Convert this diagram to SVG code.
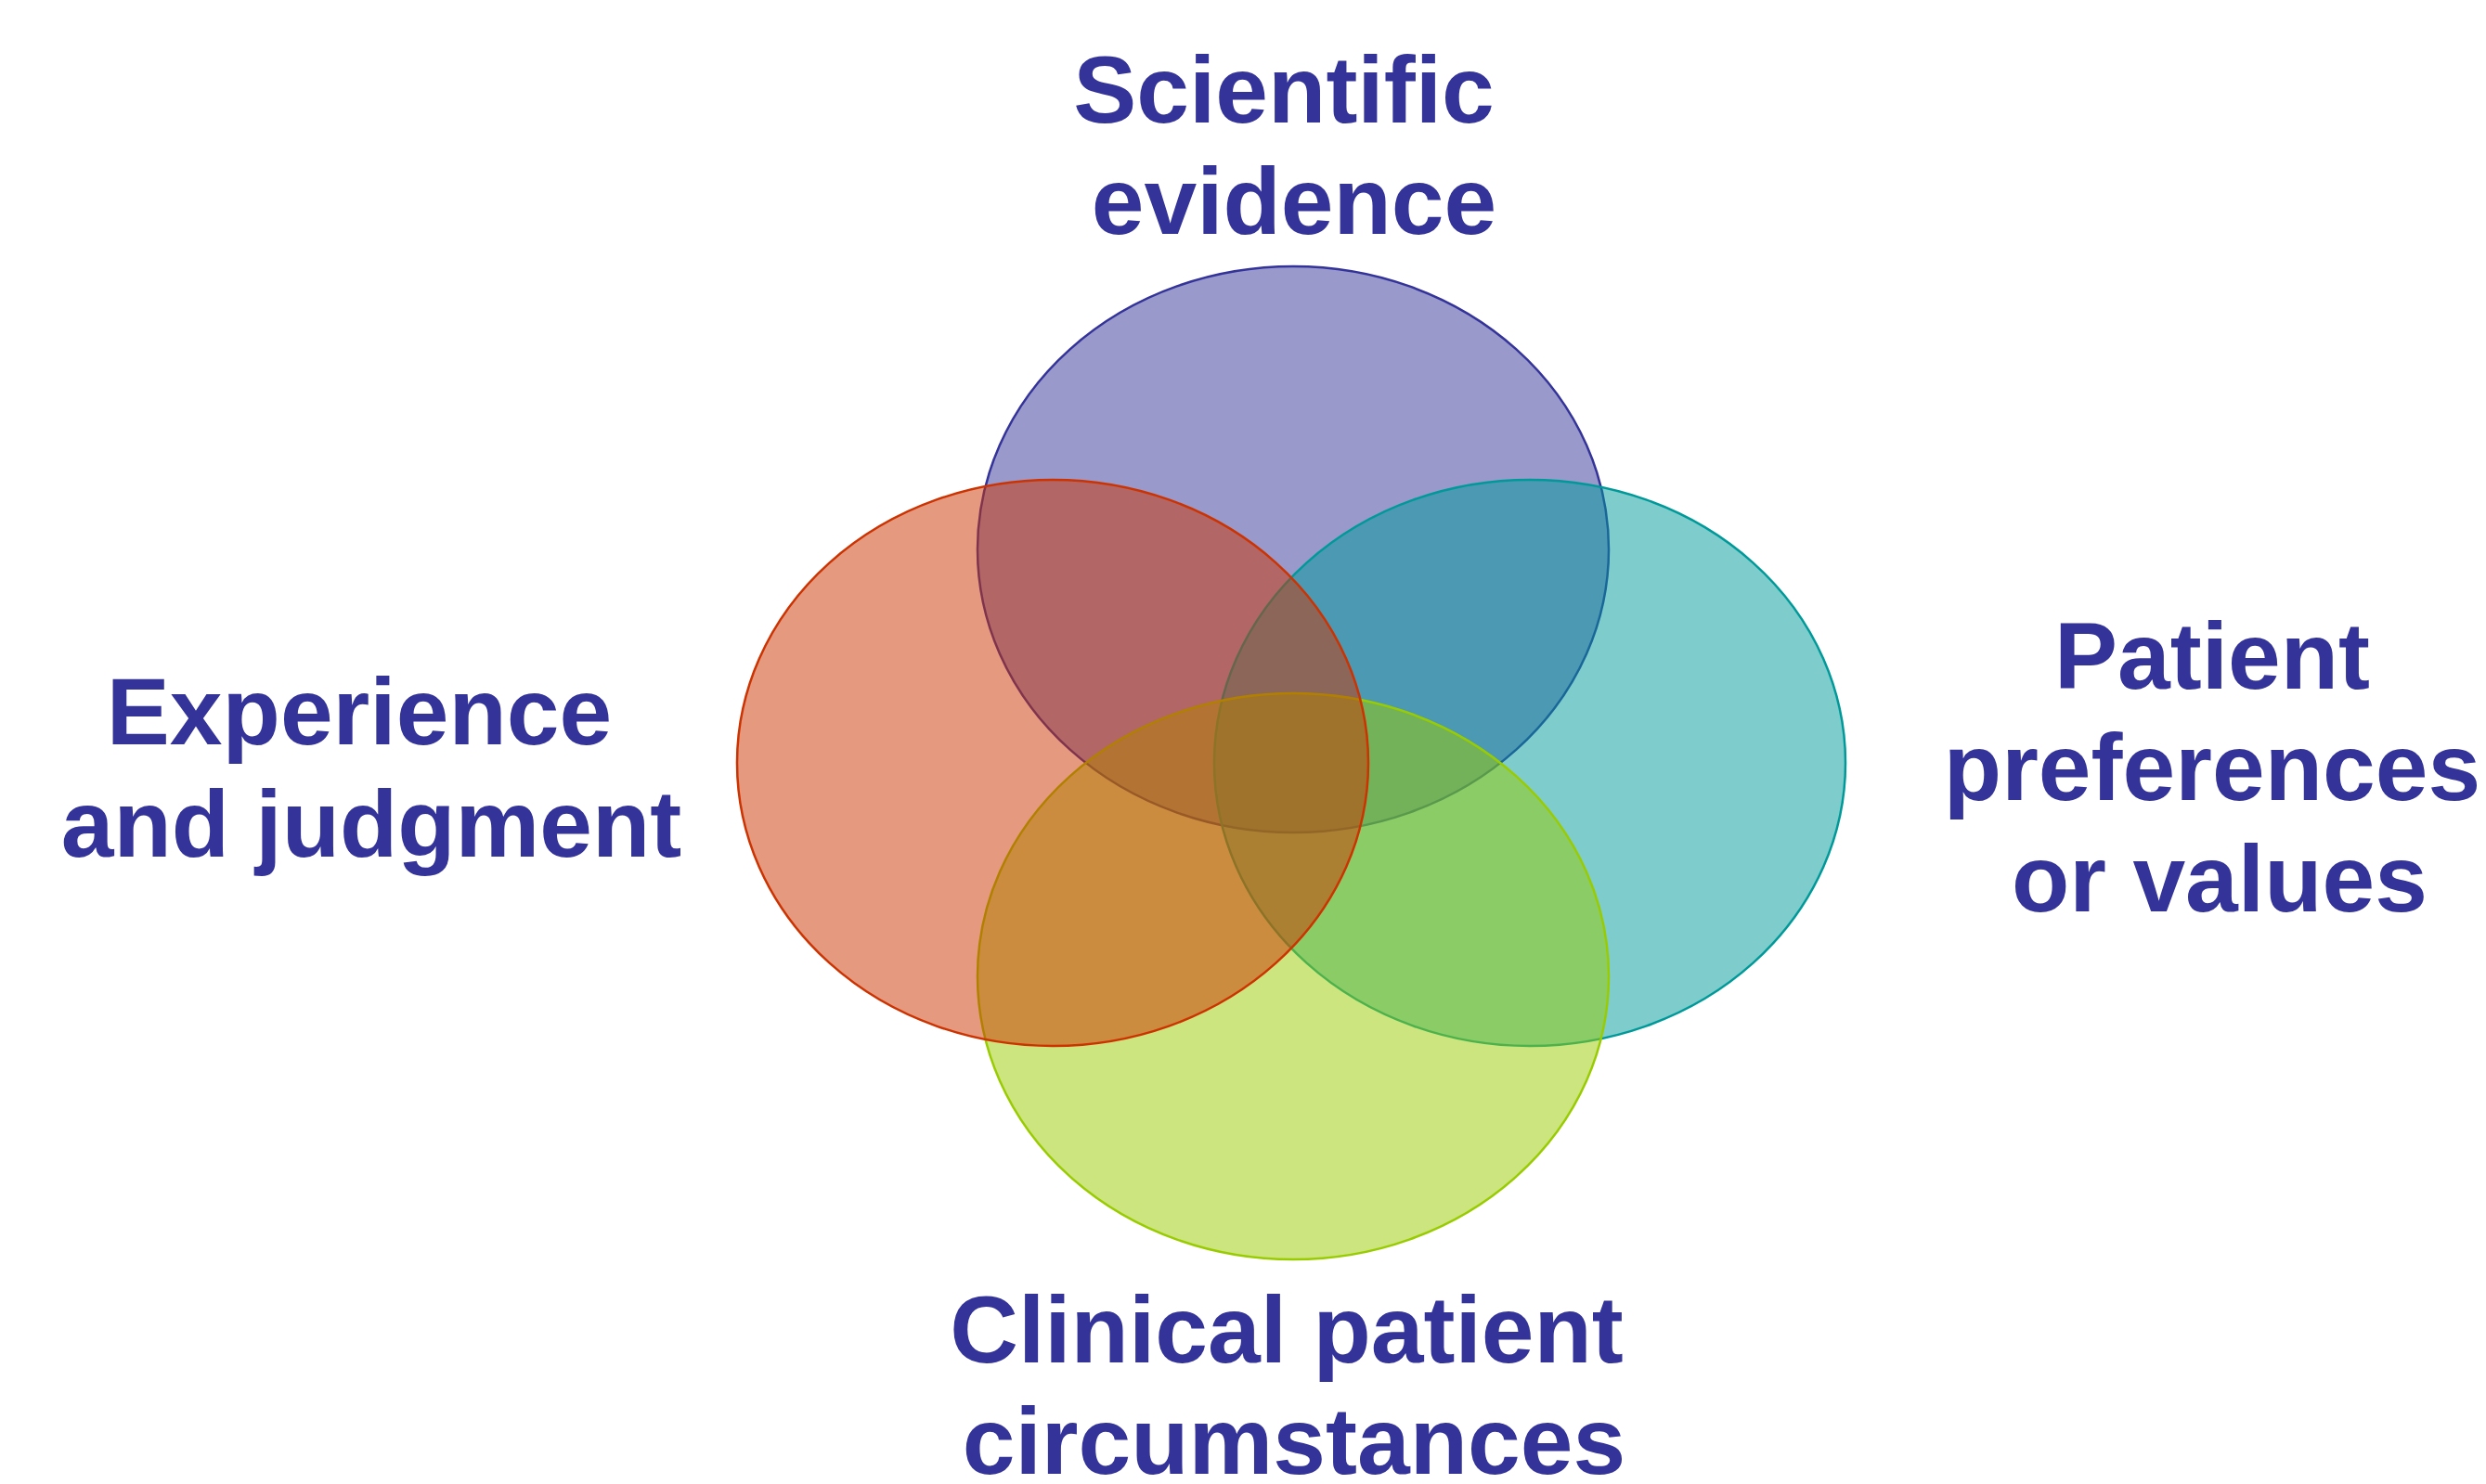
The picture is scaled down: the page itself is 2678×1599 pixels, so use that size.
<svg xmlns="http://www.w3.org/2000/svg" width="2678" height="1599" viewBox="0 0 2678 1599">
<style>
.lbl{font-family:"Liberation Sans",Arial,sans-serif;font-weight:bold;font-size:102px;fill:#333399;text-anchor:middle}
.c{fill-opacity:0.5;stroke-width:2.5}
</style>
<rect width="2678" height="1599" fill="#ffffff"/>
<g id="scientific-evidence">
<ellipse class="c" cx="1393" cy="592" rx="340" ry="305" fill="#333399" stroke="#333399"/>
</g>
<g id="patient-preferences">
<ellipse class="c" cx="1648" cy="822" rx="340" ry="305" fill="#009999" stroke="#009999"/>
</g>
<g id="clinical-circumstances">
<ellipse class="c" cx="1393" cy="1052" rx="340" ry="305" fill="#99CC00" stroke="#99CC00"/>
</g>
<g id="experience-judgment">
<ellipse class="c" cx="1134" cy="822" rx="340" ry="305" fill="#CC3300" stroke="#CC3300"/>
</g>
<g id="connectors"></g>
<g id="labels">
<text class="lbl" x="1383" y="132">Scientific</text>
<text class="lbl" x="1394" y="252">evidence</text>
<text class="lbl" x="387" y="802">Experience</text>
<text class="lbl" x="400" y="923">and judgment</text>
<text class="lbl" x="2383" y="742">Patient</text>
<text class="lbl" x="2383" y="862">preferences</text>
<text class="lbl" x="2391" y="982">or values</text>
<text class="lbl" x="1386" y="1468">Clinical patient</text>
<text class="lbl" x="1394" y="1588">circumstances</text>
</g>
</svg>
